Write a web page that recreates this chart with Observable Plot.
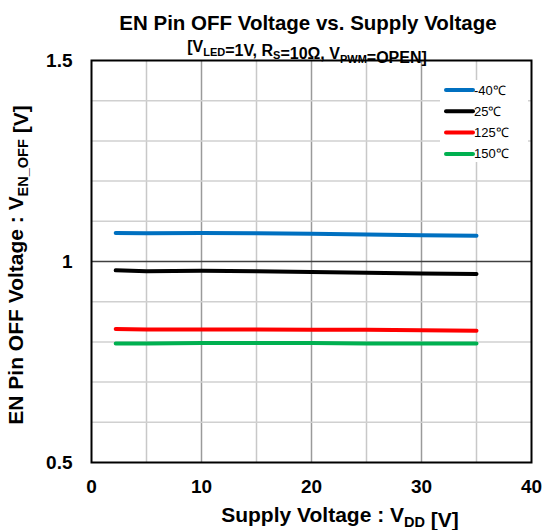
<!DOCTYPE html>
<html><head><meta charset="utf-8">
<script src="https://cdn.jsdelivr.net/npm/d3@7"></script>
<script src="https://cdn.jsdelivr.net/npm/@observablehq/plot@0.6"></script>
<style>body{margin:0;background:#fff} svg{font-family:"Liberation Sans",Arial,sans-serif}</style>
</head><body><div id="chart"></div>
<script>
const vdd = [2.2, 5, 10, 15, 20, 25, 30, 35];
const seriesNames = ["-40℃", "25℃", "125℃", "150℃"];
const seriesColors = ["#0070c0", "#000000", "#ff0000", "#00b050"];
const vMinus40 = [1.071, 1.070, 1.071, 1.070, 1.069, 1.067, 1.065, 1.064];
const v25 = [0.978, 0.976, 0.977, 0.976, 0.974, 0.972, 0.970, 0.969];
const v125 = [0.832, 0.831, 0.831, 0.831, 0.830, 0.830, 0.829, 0.828];
const v150 = [0.796, 0.796, 0.797, 0.797, 0.797, 0.796, 0.796, 0.796];
const xTicks = [0, 10, 20, 30, 40];
const yTicks = [0.5, 1, 1.5];
const xMinorGrid = [5, 15, 25, 35];
const xMajorGrid = [10, 20, 30];
const yMinorGrid = [0.6, 0.7, 0.8, 0.9, 1.1, 1.2, 1.3, 1.4];
const yMajorGrid = [1];

const allValues = [vMinus40, v25, v125, v150];
const data = seriesNames.flatMap((name, i) => vdd.map((x, j) => ({x, y: allValues[i][j], name})));

const plot = Plot.plot({
  width: 543, height: 530,
  marginLeft: 91, marginRight: 12, marginTop: 60, marginBottom: 68,
  style: {fontFamily: '"Liberation Sans", Arial, sans-serif', background: "#fff", color: "#000"},
  x: {domain: [0, 40]},
  y: {domain: [0.5, 1.5]},
  color: {domain: seriesNames, range: seriesColors},
  marks: [
    Plot.ruleX(xMinorGrid, {x: d => d, y1: 0.5, y2: 1.5, stroke: "#c8c8c8", strokeWidth: 1.5}),
    Plot.ruleX(xMajorGrid, {x: d => d, y1: 0.5, y2: 1.5, stroke: "#9a9a9a", strokeWidth: 1.5}),
    Plot.ruleY(yMinorGrid, {y: d => d, stroke: "#d0d0d0", strokeWidth: 1.5}),
    Plot.ruleY(yMajorGrid, {y: d => d, stroke: "#404040", strokeWidth: 1.4}),
    Plot.line(data, {x: "x", y: "y", z: "name", stroke: "name", strokeWidth: 4, strokeLinecap: "round"}),
    Plot.frame({stroke: "#000", strokeWidth: 2}),
    Plot.axisX({ticks: xTicks, tickSize: 0, tickPadding: 17, fontSize: 19, fontWeight: "bold", label: null, tickFormat: d => String(d)}),
    Plot.axisY({ticks: yTicks, tickSize: 0, tickPadding: 19, fontSize: 19, fontWeight: "bold", label: null, tickFormat: d => String(d)})
  ]
});
document.getElementById("chart").appendChild(plot);

const svg = d3.select(plot);
function richText(parent, parts, size, subSize) {
  parts.forEach(p => {
    if (p.sub) {
      parent.append("tspan").attr("font-size", subSize).attr("dy", size * 0.22).text(p.sub);
      parent.append("tspan").attr("dy", -size * 0.22).text("");
    } else {
      parent.append("tspan").text(p.t);
    }
  });
}
// Title
svg.append("text").attr("x", 308).attr("y", 30).attr("text-anchor", "middle")
  .attr("font-size", 20.5).attr("font-weight", "bold").attr("fill", "#000")
  .text("EN Pin OFF Voltage vs. Supply Voltage");
// Subtitle
const sub = svg.append("text").attr("x", 307).attr("y", 52).attr("text-anchor", "middle")
  .attr("font-size", 16).attr("font-weight", "bold").attr("fill", "#000");
richText(sub, [{t: "[V"}, {sub: "LED"}, {t: "=1V, R"}, {sub: "S"}, {t: "=10Ω, V"}, {sub: "PWM"}, {t: "=OPEN]"}], 16, 11);
// X label
const xl = svg.append("text").attr("x", 340).attr("y", 522).attr("text-anchor", "middle")
  .attr("font-size", 21).attr("font-weight", "bold").attr("fill", "#000");
richText(xl, [{t: "Supply Voltage : V"}, {sub: "DD"}, {t: " [V]"}], 21, 14.5);
// Y label
const yl = svg.append("text").attr("transform", "translate(23,265) rotate(-90)").attr("text-anchor", "middle")
  .attr("font-size", 21).attr("font-weight", "bold").attr("fill", "#000");
richText(yl, [{t: "EN Pin OFF Voltage : V"}, {sub: "EN_OFF"}, {t: " [V]"}], 21, 14.5);
// Legend
const lg = svg.append("g");
lg.append("rect").attr("x", 440).attr("y", 80).attr("width", 88).attr("height", 82).attr("fill", "#fff");
seriesNames.forEach((name, i) => {
  const y = 90 + i * 21.3;
  lg.append("line").attr("x1", 446).attr("x2", 473).attr("y1", y).attr("y2", y)
    .attr("stroke", seriesColors[i]).attr("stroke-width", 4).attr("stroke-linecap", "round");
  lg.append("text").attr("x", 474).attr("y", y + 4.5).attr("text-anchor", "start")
    .attr("font-size", 13).attr("fill", "#000").text(name);
});
</script></body></html>
